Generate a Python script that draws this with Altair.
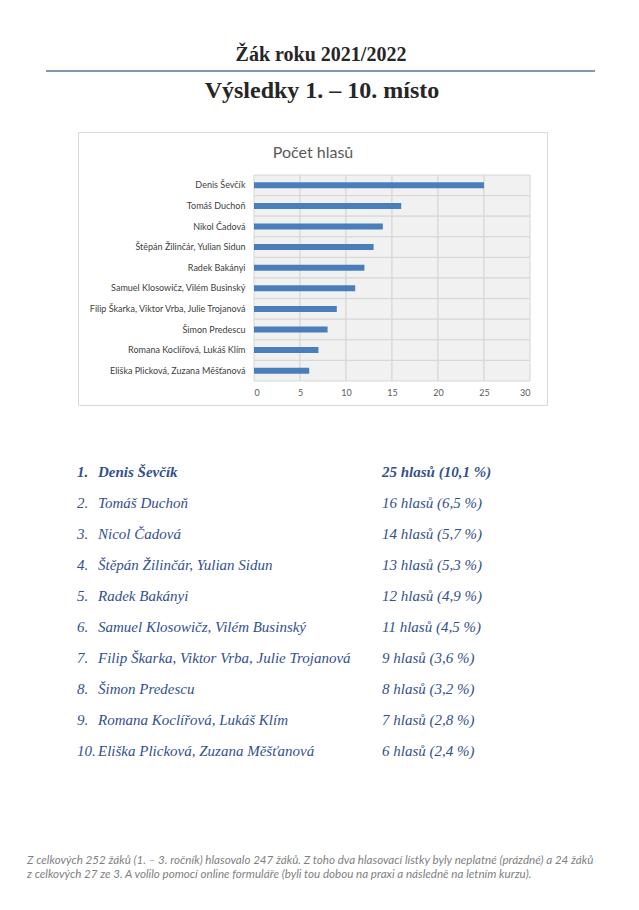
import altair as alt
import pandas as pd

# ---------------- data ----------------
chart_names = [
    "Denis Ševčík",
    "Tomáš Duchoň",
    "Nikol Čadová",
    "Štěpán Žilinčár, Yulian Sidun",
    "Radek Bakányi",
    "Samuel Klosowičz, Vilém Businský",
    "Filip Škarka, Viktor Vrba, Julie Trojanová",
    "Šimon Predescu",
    "Romana Koclířová, Lukáš Klím",
    "Eliška Plicková, Zuzana Měšťanová",
]
list_names = [
    "Denis Ševčík",
    "Tomáš Duchoň",
    "Nicol Čadová",
    "Štěpán Žilinčár, Yulian Sidun",
    "Radek Bakányi",
    "Samuel Klosowičz, Vilém Businský",
    "Filip Škarka, Viktor Vrba, Julie Trojanová",
    "Šimon Predescu",
    "Romana Koclířová, Lukáš Klím",
    "Eliška Plicková, Zuzana Měšťanová",
]
votes = [25, 16, 14, 13, 12, 11, 9, 8, 7, 6]
percents = ["10,1", "6,5", "5,7", "5,3", "4,9", "4,5", "3,6", "3,2", "2,8", "2,4"]
ranks = [1, 2, 3, 4, 5, 6, 7, 8, 9, 10]
x_ticks = [0, 5, 10, 15, 20, 25, 30]

page_title = "Žák roku 2021/2022"
page_subtitle = "Výsledky 1. – 10. místo"
chart_title = "Počet hlasů"
footnote_lines = [
    "Z celkových 252 žáků (1. – 3. ročník) hlasovalo 247 žáků. Z toho dva hlasovací lístky byly neplatné (prázdné) a 24 žáků",
    "z celkových 27 ze 3. A volilo pomocí online formuláře (byli tou dobou na praxi a následně na letním kurzu).",
]

# ---------------- tables ----------------
bar_df = pd.DataFrame({"name": chart_names, "votes": votes})
cells_df = pd.DataFrame(
    [
        {"name": n, "x0": x_ticks[i], "x1": x_ticks[i + 1]}
        for n in chart_names
        for i in range(len(x_ticks) - 1)
    ]
)
list_df = pd.DataFrame(
    {
        "rank": ranks,
        "num": [f"{r}." for r in ranks],
        "name": list_names,
        "label": [f"{v} hlasů ({p} %)" for v, p in zip(votes, percents)],
        "bold": [r == 1 for r in ranks],
    }
)

SERIF = "Liberation Serif"
SANS = "Lato"
BLUE_TEXT = "#33508e"

# ---------------- header panel ----------------
header_title = alt.Chart(pd.DataFrame({"t": [page_title]})).mark_text(
    font=SERIF, fontSize=20, fontWeight="bold", color="#262626",
    align="center", baseline="alphabetic",
).encode(text="t:N", x=alt.value(321), y=alt.value(61))

header_rule = alt.Chart(pd.DataFrame({"a": [0]})).mark_rule(
    color="#547896", strokeWidth=1.3
).encode(x=alt.value(46), x2=alt.value(595), y=alt.value(71))

header_sub = alt.Chart(pd.DataFrame({"t": [page_subtitle]})).mark_text(
    font=SERIF, fontSize=24, fontWeight="bold", color="#262626",
    align="center", baseline="alphabetic",
).encode(text="t:N", x=alt.value(322), y=alt.value(98))

header = alt.layer(header_title, header_rule, header_sub).properties(
    width=639, height=131
)

# ---------------- bar chart panel ----------------
xscale = alt.Scale(domain=[0, 30], range=[176, 452], nice=False)
yscale = alt.Scale(domain=chart_names, range=[43, 249], paddingInner=0, paddingOuter=0)

x_axis = alt.Axis(
    values=x_ticks, title=None, grid=False, ticks=False, domain=False,
    labelPadding=7, offset=-24, labelFontSize=9, labelColor="#595959",
    labelFont=SANS,
)
y_axis = alt.Axis(
    title=None, grid=False, ticks=False, domain=False, labelPadding=9,
    offset=-176, labelFontSize=9, labelColor="#404040", labelFont=SANS,
    labelLimit=400,
)

cells = alt.Chart(cells_df).mark_rect(
    fill="#f1f1f1", stroke="#d6d6d6", strokeWidth=1
).encode(
    x=alt.X("x0:Q", scale=xscale, axis=x_axis),
    x2="x1:Q",
    y=alt.Y("name:N", scale=yscale, axis=y_axis),
)

bars = alt.Chart(bar_df).mark_bar(color="#4a7ebb", height=6).encode(
    x=alt.X("votes:Q", scale=xscale, axis=x_axis),
    y=alt.Y("name:N", scale=yscale, axis=y_axis),
)

title_mark = alt.Chart(pd.DataFrame({"t": [chart_title]})).mark_text(
    font=SANS, fontSize=16, color="#595959", align="center", baseline="alphabetic"
).encode(text="t:N", x=alt.value(235), y=alt.value(26))

bar_chart = alt.layer(cells, bars, title_mark).properties(
    width=469, height=273,
    view=alt.ViewBackground(stroke="#d9d9d9", strokeWidth=1, fill="white"),
)

spacer = alt.Chart(pd.DataFrame({"t": [""]})).mark_text().encode(
    text="t:N"
).properties(width=77, height=273)

bar_row = alt.hconcat(spacer, bar_chart, spacing=0)

# ---------------- list panel ----------------
rank_scale = alt.Scale(domain=[1, 10], range=[66, 345], nice=False, zero=False)


def list_column(field, xpos, bold):
    return (
        alt.Chart(list_df)
        .transform_filter(alt.datum.bold if bold else ~alt.datum.bold)
        .mark_text(
            font=SERIF, fontSize=15, fontStyle="italic",
            fontWeight="bold" if bold else "normal",
            color=BLUE_TEXT, align="left", baseline="middle",
        )
        .encode(
            text=f"{field}:N",
            x=alt.value(xpos),
            y=alt.Y("rank:Q", scale=rank_scale, axis=None),
        )
    )


list_layers = []
for fld, xp in [("num", 77), ("name", 98), ("label", 382)]:
    for b in (True, False):
        list_layers.append(list_column(fld, xp, b))

footnote = alt.Chart(pd.DataFrame({"t": ["\n".join(footnote_lines)]})).mark_text(
    font=SANS, fontSize=11.6, fontStyle="italic", color="#7f7f7f",
    align="left", baseline="alphabetic", lineBreak="\n", lineHeight=14,
).encode(text="t:N", x=alt.value(27), y=alt.value(458))

list_panel = alt.layer(*list_layers, footnote).properties(width=639, height=505)

# ---------------- page ----------------
chart = (
    alt.vconcat(header, bar_row, list_panel, spacing=0)
    .properties(padding=0, background="white")
    .configure_view(strokeWidth=0)
)

chart.save("out.html", embed_options={"renderer": "svg", "actions": False})
